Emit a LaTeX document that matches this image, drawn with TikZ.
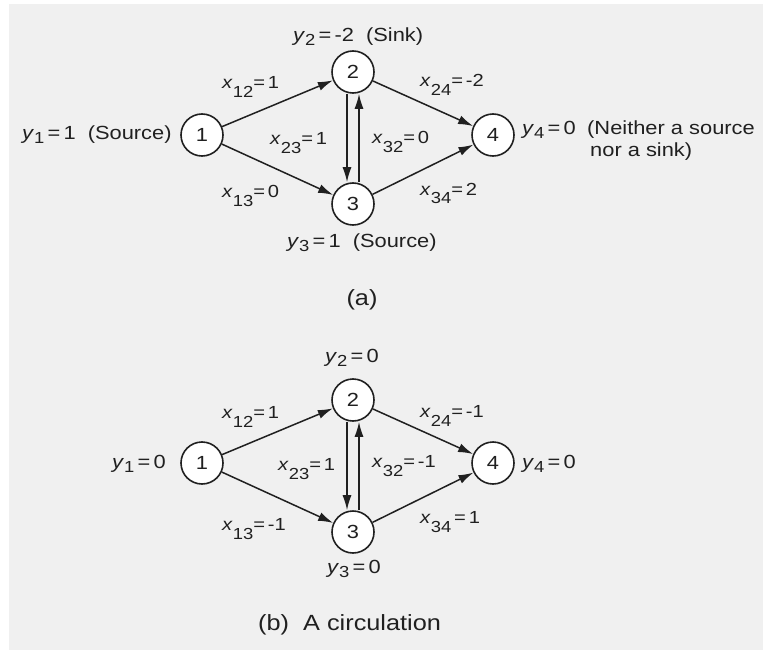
\documentclass[tikz,border=0pt]{standalone}
\usepackage{fontspec}
\setmainfont[FakeStretch=1.15]{Liberation Sans}
\usetikzlibrary{arrows.meta}
\definecolor{bggray}{HTML}{F0F0F0}
\definecolor{ink}{HTML}{202020}
\newcommand\ylab[2]{\fontsize{19}{21}\selectfont\textit{y}\raisebox{-4pt}{\fontsize{16}{16}\selectfont #1}#2}
\newcommand\xlab[2]{\fontsize{17.5}{19}\selectfont\textit{x}\raisebox{-9pt}{\fontsize{16}{16}\selectfont #1}#2}
\tikzset{
  every node/.style={text=ink},
  nd/.style={circle, draw=ink, fill=white, line width=1.6pt, minimum size=42pt, inner sep=0pt, font=\fontsize{19}{19}\selectfont},
  arr/.style={draw=ink, line width=1.5pt, -{Latex[length=15pt,width=9pt]}},
  lab/.style={inner sep=0pt, anchor=base west},
  capt/.style={inner sep=0pt, anchor=base west, font=\fontsize{22}{24}\selectfont},
  txt/.style={inner sep=0pt, anchor=base west, font=\fontsize{19}{21}\selectfont}
}
\begin{document}
\begin{tikzpicture}[x=1pt,y=-1pt]
\useasboundingbox (0,0) rectangle (763,650);
\fill[white] (0,0) rectangle (763,650);
\fill[bggray] (9,4) rectangle (763,650);

% ---------- (a)
\node[nd] (a1) at (202,135) {1};
\node[nd] (a2) at (353,72) {2};
\node[nd] (a3) at (353,204) {3};
\node[nd] (a4) at (493,135) {4};
\draw[arr] (a1) -- (a2);
\draw[arr] (a1) -- (a3);
\draw[arr] (a2) -- (a4);
\draw[arr] (a3) -- (a4);
\draw[arr] ([xshift=-6pt]a2.south) -- ([xshift=-6pt]a3.north);
\draw[arr] ([xshift=6pt]a3.north) -- ([xshift=6pt]a2.south);

\node[lab] (ay2) at (293,42) {\ylab{2}{\,=\,-2\ \ (Sink)}};
\node[lab] (ax12) at (222,89) {\xlab{12}{=\,1}};
\node[lab] (ay1) at (22,140) {\ylab{1}{\,=\,1\ \ (Source)}};
\node[lab] (ax23) at (270,145) {\xlab{23}{=\,1}};
\node[lab] (ax32) at (372,144) {\xlab{32}{=\,0}};
\node[lab] (ax13) at (222,197) {\xlab{13}{=\,0}};
\node[lab] (ay3) at (287,247) {\ylab{3}{\,=\,1\ \ (Source)}};
\node[lab] (ax24) at (420,87) {\xlab{24}{=\,-2}};
\node[lab] (ax34) at (420,195) {\xlab{34}{=\,2}};
\node[lab] (ay4) at (522,135) {\ylab{4}{\,=\,0}};
\node[txt] (ay4t) at (587,135) {(Neither a source};
\node[txt] (ay4u) at (590,157) {nor a sink)};
\node[capt, anchor=base] (acap) at (362,305) {(a)};

% ---------- (b)
\node[nd] (b1) at (202,463) {1};
\node[nd] (b2) at (353,400) {2};
\node[nd] (b3) at (353,532) {3};
\node[nd] (b4) at (493,463) {4};
\draw[arr] (b1) -- (b2);
\draw[arr] (b1) -- (b3);
\draw[arr] (b2) -- (b4);
\draw[arr] (b3) -- (b4);
\draw[arr] ([xshift=-6pt]b2.south) -- ([xshift=-6pt]b3.north);
\draw[arr] ([xshift=6pt]b3.north) -- ([xshift=6pt]b2.south);

\node[lab] (by2) at (325,362) {\ylab{2}{\,=\,0}};
\node[lab] (by1) at (112,468) {\ylab{1}{\,=\,0}};
\node[lab] (bx12) at (222,418) {\xlab{12}{=\,1}};
\node[lab] (bx23) at (278,470) {\xlab{23}{=\,1}};
\node[lab] (bx13) at (222,530) {\xlab{13}{=\,-1}};
\node[lab] (by3) at (327,573) {\ylab{3}{\,=\,0}};
\node[lab] (bx24) at (420,417) {\xlab{24}{=\,-1}};
\node[lab] (bx32) at (372,467) {\xlab{32}{=\,-1}};
\node[lab] (bx34) at (420,523) {\xlab{34}{\,=\,1}};
\node[lab] (by4) at (522,468) {\ylab{4}{\,=\,0}};
\node[capt] (bcap) at (258,630) {(b)\ \ A circulation};
\end{tikzpicture}
\end{document}
